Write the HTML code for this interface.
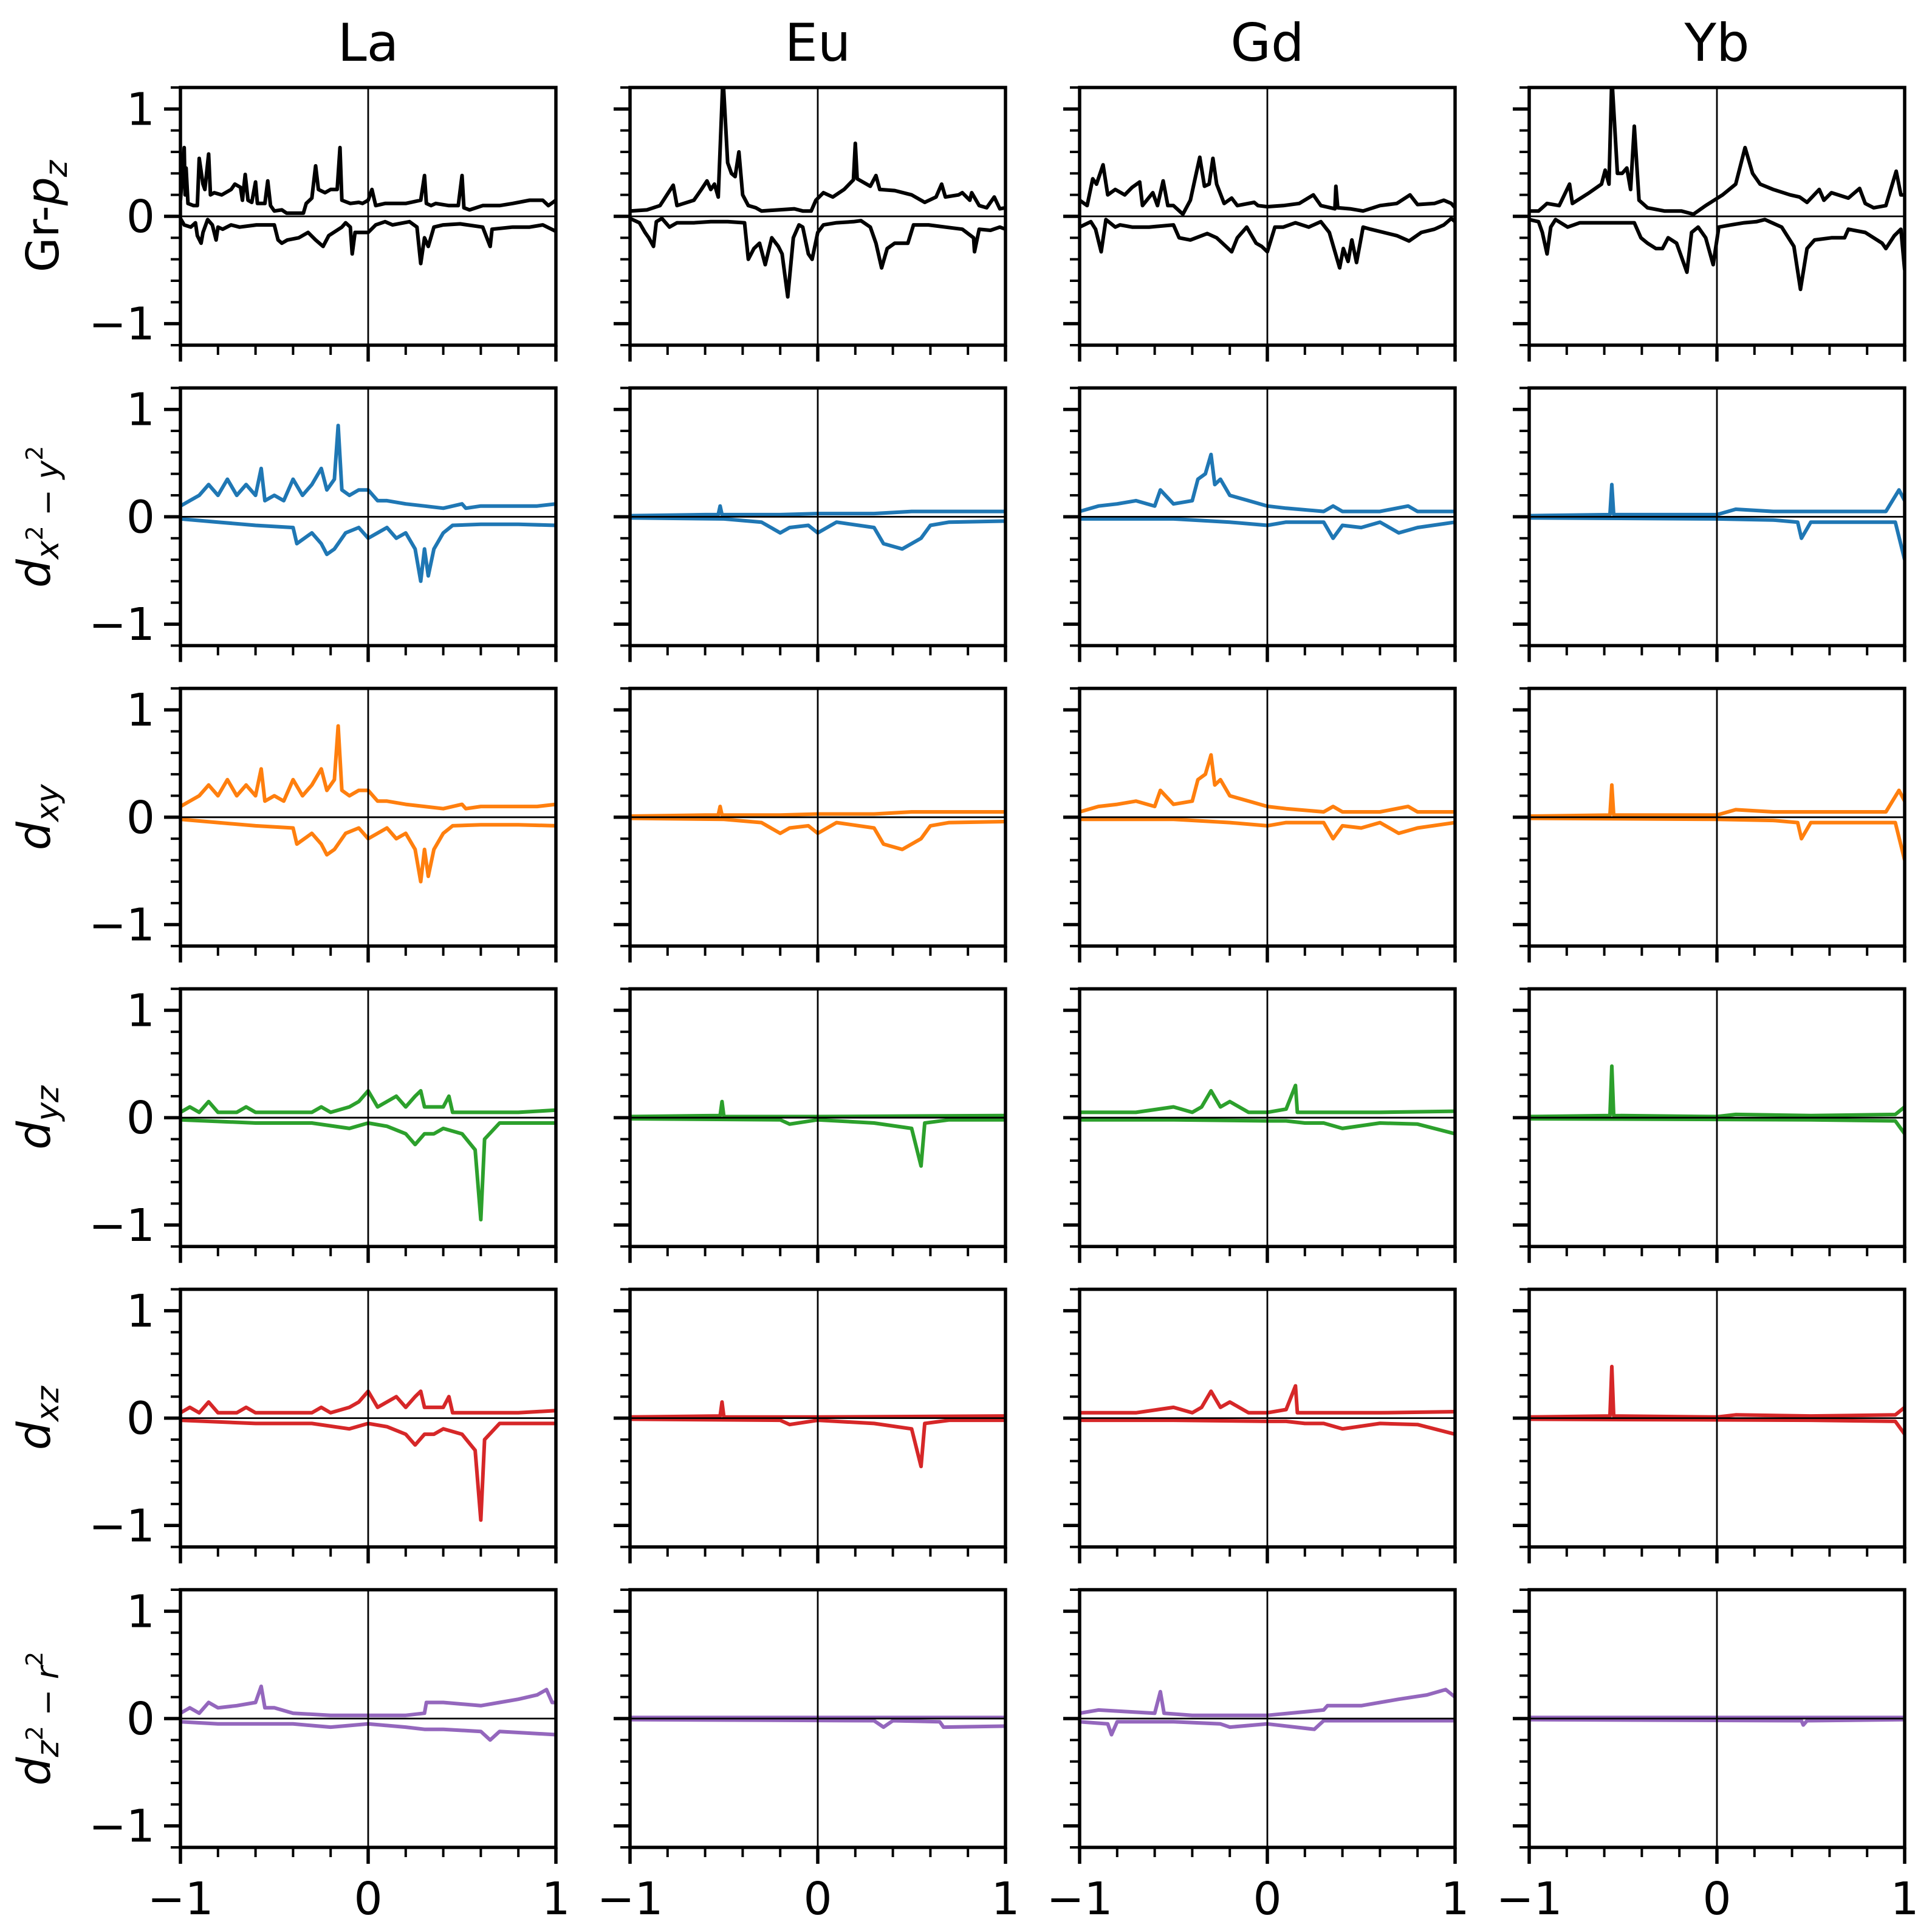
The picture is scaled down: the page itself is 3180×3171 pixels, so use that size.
<!DOCTYPE html>
<html><head><meta charset="utf-8"><style>
html,body{margin:0;padding:0;background:#fff}
svg{display:block;font-family:"DejaVu Sans","Liberation Sans",sans-serif}
</style></head><body>
<svg id="fig" width="3180" height="3171" viewBox="0 0 3180 3171" xmlns="http://www.w3.org/2000/svg"></svg>
<script>
// ---------- data ----------
const columns = ["La","Eu","Gd","Yb"];
const rowLabels = ["gr-pz","dx2-y2","dxy","dyz","dxz","dz2-r2"];
const rowColors = ["#000000","#1f77b4","#ff7f0e","#2ca02c","#d62728","#9467bd"];
const xTicks = [-1,0,1];
const xTickLabels = ["\u22121","0","1"];
const yTicks = [-1,0,1];
const yTickLabels = ["\u22121","0","1"];

// Row 0: Gr-pz
const grLaUpX=[-1,-0.98,-0.975,-0.97,-0.96,-0.93,-0.91,-0.9,-0.88,-0.87,-0.85,-0.84,-0.82,-0.78,-0.73,-0.71,-0.68,-0.67,-0.655,-0.64,-0.62,-0.6,-0.59,-0.55,-0.535,-0.52,-0.5,-0.46,-0.435,-0.345,-0.33,-0.3,-0.28,-0.265,-0.23,-0.2,-0.165,-0.15,-0.14,-0.095,-0.05,-0.03,0,0.02,0.04,0.09,0.13,0.2,0.28,0.3,0.31,0.335,0.36,0.43,0.48,0.5,0.51,0.54,0.61,0.7,0.77,0.86,0.93,0.96,1];
const grLaUpY=[0.15,0.64,0.2,0.45,0.12,0.1,0.1,0.54,0.3,0.25,0.58,0.2,0.22,0.2,0.25,0.3,0.27,0.15,0.39,0.15,0.13,0.32,0.12,0.12,0.33,0.1,0.05,0.06,0.03,0.03,0.12,0.17,0.47,0.25,0.22,0.25,0.25,0.64,0.15,0.12,0.13,0.12,0.15,0.25,0.1,0.12,0.12,0.12,0.15,0.38,0.12,0.1,0.12,0.1,0.1,0.38,0.08,0.06,0.1,0.1,0.12,0.15,0.15,0.1,0.15];
const grLaDnX=[-1,-0.98,-0.945,-0.92,-0.91,-0.89,-0.88,-0.855,-0.83,-0.81,-0.8,-0.775,-0.73,-0.685,-0.595,-0.5,-0.48,-0.46,-0.43,-0.37,-0.32,-0.28,-0.24,-0.21,-0.14,-0.12,-0.095,-0.085,-0.07,-0.03,0,0.04,0.09,0.13,0.22,0.26,0.28,0.3,0.32,0.35,0.4,0.49,0.61,0.65,0.66,0.77,0.86,0.93,1];
const grLaDnY=[-0.02,-0.08,-0.1,-0.06,-0.18,-0.25,-0.15,-0.03,-0.08,-0.22,-0.1,-0.12,-0.08,-0.1,-0.08,-0.08,-0.22,-0.25,-0.22,-0.2,-0.15,-0.22,-0.28,-0.18,-0.1,-0.06,-0.1,-0.35,-0.15,-0.15,-0.15,-0.08,-0.05,-0.08,-0.05,-0.1,-0.44,-0.2,-0.28,-0.1,-0.08,-0.07,-0.1,-0.28,-0.12,-0.1,-0.1,-0.08,-0.14];

const grEuUpX=[-1,-0.91,-0.84,-0.77,-0.75,-0.66,-0.62,-0.59,-0.57,-0.55,-0.53,-0.505,-0.48,-0.46,-0.44,-0.42,-0.4,-0.37,-0.33,-0.3,-0.21,-0.125,-0.08,-0.035,-0.01,0.03,0.08,0.14,0.19,0.2,0.21,0.28,0.31,0.33,0.41,0.5,0.57,0.63,0.66,0.68,0.75,0.77,0.81,0.82,0.86,0.9,0.94,0.97,1];
const grEuUpY=[0.05,0.06,0.1,0.29,0.1,0.15,0.25,0.33,0.25,0.3,0.18,1.3,0.5,0.4,0.37,0.6,0.2,0.1,0.08,0.05,0.06,0.07,0.05,0.05,0.15,0.22,0.18,0.25,0.34,0.68,0.35,0.28,0.38,0.25,0.24,0.2,0.13,0.18,0.3,0.18,0.2,0.22,0.15,0.22,0.1,0.08,0.18,0.07,0.08];
const grEuDnX=[-1,-0.95,-0.92,-0.9,-0.875,-0.86,-0.83,-0.79,-0.75,-0.66,-0.57,-0.48,-0.39,-0.37,-0.34,-0.31,-0.28,-0.245,-0.21,-0.19,-0.16,-0.13,-0.1,-0.08,-0.05,-0.03,0,0.03,0.1,0.19,0.23,0.28,0.31,0.34,0.37,0.41,0.48,0.51,0.59,0.68,0.77,0.83,0.835,0.86,0.92,0.97,1];
const grEuDnY=[-0.02,-0.06,-0.15,-0.2,-0.28,-0.05,-0.02,-0.1,-0.06,-0.06,-0.05,-0.05,-0.06,-0.4,-0.3,-0.25,-0.45,-0.2,-0.28,-0.35,-0.75,-0.2,-0.08,-0.1,-0.35,-0.4,-0.15,-0.08,-0.06,-0.05,-0.04,-0.1,-0.25,-0.48,-0.3,-0.25,-0.25,-0.08,-0.08,-0.1,-0.12,-0.2,-0.33,-0.12,-0.13,-0.1,-0.12];

const grGdUpX=[-1,-0.96,-0.93,-0.91,-0.875,-0.85,-0.81,-0.76,-0.72,-0.68,-0.665,-0.61,-0.585,-0.555,-0.53,-0.5,-0.45,-0.41,-0.385,-0.36,-0.335,-0.31,-0.29,-0.27,-0.23,-0.19,-0.16,-0.07,-0.05,0,0.085,0.17,0.245,0.285,0.36,0.365,0.375,0.44,0.51,0.6,0.69,0.76,0.8,0.89,0.94,0.98,1];
const grGdUpY=[0.15,0.1,0.35,0.3,0.48,0.2,0.25,0.2,0.27,0.32,0.1,0.22,0.1,0.33,0.1,0.1,0.02,0.15,0.35,0.55,0.28,0.3,0.54,0.3,0.12,0.17,0.1,0.13,0.1,0.09,0.1,0.12,0.2,0.1,0.07,0.28,0.08,0.07,0.05,0.1,0.12,0.2,0.11,0.12,0.15,0.12,0.08];
const grGdDnX=[-1,-0.94,-0.915,-0.885,-0.86,-0.81,-0.785,-0.72,-0.63,-0.5,-0.47,-0.41,-0.32,-0.27,-0.19,-0.16,-0.11,-0.06,-0.03,0,0.04,0.085,0.15,0.22,0.285,0.33,0.385,0.405,0.43,0.45,0.475,0.51,0.55,0.62,0.69,0.755,0.82,0.89,0.94,0.98,1];
const grGdDnY=[-0.1,-0.05,-0.12,-0.33,-0.03,-0.1,-0.08,-0.1,-0.1,-0.08,-0.2,-0.22,-0.16,-0.2,-0.33,-0.2,-0.1,-0.25,-0.28,-0.33,-0.1,-0.1,-0.06,-0.1,-0.05,-0.15,-0.48,-0.3,-0.42,-0.22,-0.43,-0.1,-0.12,-0.15,-0.18,-0.23,-0.15,-0.12,-0.08,-0.02,-0.05];

const grYbUpX=[-1,-0.95,-0.905,-0.84,-0.785,-0.77,-0.68,-0.615,-0.595,-0.575,-0.56,-0.53,-0.505,-0.48,-0.46,-0.44,-0.415,-0.37,-0.28,-0.19,-0.125,-0.06,-0.015,0.03,0.1,0.15,0.19,0.23,0.3,0.39,0.44,0.48,0.545,0.57,0.61,0.7,0.76,0.79,0.835,0.9,0.955,0.98,1];
const grYbUpY=[0.05,0.05,0.12,0.1,0.3,0.12,0.22,0.3,0.43,0.3,1.3,0.4,0.4,0.45,0.25,0.84,0.15,0.08,0.05,0.05,0.02,0.1,0.15,0.2,0.3,0.64,0.4,0.3,0.25,0.2,0.18,0.13,0.25,0.15,0.22,0.17,0.26,0.12,0.08,0.1,0.42,0.2,0.2];
const grYbDnX=[-1,-0.95,-0.93,-0.905,-0.885,-0.86,-0.795,-0.73,-0.595,-0.44,-0.405,-0.37,-0.325,-0.29,-0.26,-0.215,-0.16,-0.135,-0.1,-0.06,-0.02,0.01,0.075,0.145,0.21,0.255,0.345,0.41,0.445,0.48,0.52,0.61,0.68,0.7,0.79,0.88,0.9,0.945,0.98,1];
const grYbDnY=[-0.03,-0.05,-0.15,-0.35,-0.1,-0.03,-0.1,-0.06,-0.06,-0.06,-0.2,-0.25,-0.3,-0.3,-0.2,-0.25,-0.52,-0.15,-0.1,-0.2,-0.45,-0.1,-0.08,-0.06,-0.05,-0.03,-0.1,-0.28,-0.68,-0.3,-0.22,-0.2,-0.2,-0.12,-0.15,-0.25,-0.3,-0.18,-0.12,-0.5];

// Rows 1-2: d(x2-y2) and d(xy) (nearly identical)
const egLaUpX=[-1,-0.95,-0.9,-0.85,-0.8,-0.75,-0.7,-0.65,-0.6,-0.57,-0.55,-0.5,-0.45,-0.4,-0.35,-0.3,-0.25,-0.22,-0.18,-0.16,-0.14,-0.1,-0.05,0,0.05,0.1,0.2,0.3,0.4,0.5,0.52,0.6,0.7,0.8,0.9,1];
const egLaUpY=[0.1,0.15,0.2,0.3,0.2,0.35,0.2,0.3,0.2,0.45,0.15,0.2,0.15,0.35,0.2,0.3,0.45,0.25,0.35,0.85,0.25,0.2,0.25,0.25,0.15,0.15,0.12,0.1,0.08,0.12,0.08,0.1,0.1,0.1,0.1,0.12];
const egLaDnX=[-1,-0.8,-0.6,-0.4,-0.38,-0.3,-0.25,-0.22,-0.18,-0.12,-0.05,0,0.05,0.1,0.15,0.2,0.25,0.28,0.3,0.32,0.35,0.4,0.45,0.6,0.8,1];
const egLaDnY=[-0.02,-0.05,-0.08,-0.1,-0.25,-0.15,-0.25,-0.35,-0.3,-0.15,-0.1,-0.2,-0.15,-0.1,-0.2,-0.15,-0.3,-0.6,-0.3,-0.55,-0.3,-0.15,-0.08,-0.07,-0.07,-0.08];
const egEuUpX=[-1,-0.6,-0.53,-0.52,-0.51,-0.2,0,0.3,0.5,0.7,0.9,1];
const egEuUpY=[0.01,0.02,0.02,0.1,0.02,0.02,0.03,0.03,0.05,0.05,0.05,0.05];
const egEuDnX=[-1,-0.5,-0.3,-0.2,-0.15,-0.05,0,0.1,0.3,0.35,0.45,0.55,0.6,0.7,1];
const egEuDnY=[-0.01,-0.02,-0.05,-0.15,-0.1,-0.08,-0.15,-0.05,-0.1,-0.25,-0.3,-0.2,-0.08,-0.05,-0.04];
const egGdUpX=[-1,-0.9,-0.8,-0.7,-0.6,-0.57,-0.5,-0.4,-0.37,-0.33,-0.3,-0.28,-0.25,-0.2,-0.1,0,0.1,0.3,0.35,0.4,0.6,0.75,0.8,1];
const egGdUpY=[0.05,0.1,0.12,0.15,0.1,0.25,0.12,0.15,0.35,0.4,0.58,0.3,0.35,0.2,0.15,0.1,0.08,0.05,0.1,0.05,0.05,0.1,0.05,0.05];
const egGdDnX=[-1,-0.5,-0.2,0,0.1,0.3,0.35,0.4,0.5,0.6,0.7,0.8,1];
const egGdDnY=[-0.02,-0.02,-0.05,-0.08,-0.05,-0.05,-0.2,-0.08,-0.1,-0.05,-0.15,-0.1,-0.05];
const egYbUpX=[-1,-0.57,-0.56,-0.55,0,0.1,0.3,0.6,0.9,0.97,1];
const egYbUpY=[0.01,0.02,0.3,0.02,0.02,0.07,0.05,0.05,0.05,0.25,0.15];
const egYbDnX=[-1,0,0.3,0.43,0.45,0.5,0.8,0.95,1];
const egYbDnY=[-0.01,-0.02,-0.03,-0.05,-0.2,-0.05,-0.05,-0.05,-0.4];

// Rows 3-4: d(yz) and d(xz) (nearly identical)
const t2LaUpX=[-1,-0.95,-0.9,-0.85,-0.8,-0.7,-0.65,-0.6,-0.3,-0.25,-0.2,-0.1,-0.05,0,0.05,0.1,0.15,0.2,0.25,0.28,0.3,0.4,0.43,0.45,0.6,0.8,1];
const t2LaUpY=[0.05,0.1,0.05,0.15,0.05,0.05,0.1,0.05,0.05,0.1,0.05,0.1,0.15,0.25,0.1,0.15,0.2,0.1,0.2,0.25,0.1,0.1,0.2,0.05,0.05,0.05,0.07];
const t2LaDnX=[-1,-0.6,-0.3,-0.1,0,0.1,0.2,0.25,0.3,0.35,0.4,0.5,0.57,0.6,0.62,0.7,1];
const t2LaDnY=[-0.02,-0.05,-0.05,-0.1,-0.05,-0.08,-0.15,-0.25,-0.15,-0.15,-0.1,-0.15,-0.3,-0.95,-0.2,-0.05,-0.05];
const t2EuUpX=[-1,-0.52,-0.51,-0.5,0,1];
const t2EuUpY=[0.01,0.02,0.15,0.01,0.01,0.02];
const t2EuDnX=[-1,-0.2,-0.15,0,0.3,0.5,0.55,0.57,0.7,1];
const t2EuDnY=[-0.01,-0.02,-0.06,-0.02,-0.05,-0.1,-0.45,-0.05,-0.02,-0.02];
const t2GdUpX=[-1,-0.8,-0.7,-0.5,-0.4,-0.35,-0.3,-0.25,-0.2,-0.1,0,0.1,0.15,0.16,0.3,0.6,1];
const t2GdUpY=[0.05,0.05,0.05,0.1,0.05,0.1,0.25,0.1,0.15,0.05,0.05,0.08,0.3,0.05,0.05,0.05,0.06];
const t2GdDnX=[-1,-0.5,0,0.1,0.2,0.3,0.4,0.6,0.8,1];
const t2GdDnY=[-0.02,-0.02,-0.03,-0.03,-0.05,-0.05,-0.1,-0.05,-0.06,-0.15];
const t2YbUpX=[-1,-0.57,-0.56,-0.55,0,0.1,0.5,0.95,1];
const t2YbUpY=[0.01,0.02,0.48,0.02,0.01,0.03,0.02,0.03,0.1];
const t2YbDnX=[-1,0.5,0.95,1];
const t2YbDnY=[-0.01,-0.02,-0.03,-0.15];

// Row 5: d(z2-r2)
const z2LaUpX=[-1,-0.95,-0.9,-0.85,-0.8,-0.7,-0.6,-0.57,-0.55,-0.5,-0.4,-0.2,0,0.2,0.3,0.31,0.4,0.6,0.7,0.8,0.9,0.95,0.98,1];
const z2LaUpY=[0.05,0.1,0.05,0.15,0.1,0.12,0.15,0.3,0.1,0.1,0.05,0.03,0.03,0.03,0.05,0.15,0.15,0.12,0.15,0.18,0.22,0.27,0.15,0.15];
const z2LaDnX=[-1,-0.8,-0.6,-0.4,-0.2,0,0.2,0.3,0.4,0.6,0.65,0.7,0.8,1];
const z2LaDnY=[-0.03,-0.05,-0.05,-0.05,-0.08,-0.05,-0.08,-0.1,-0.1,-0.12,-0.2,-0.12,-0.13,-0.15];
const z2EuUpX=[-1,0,1];
const z2EuUpY=[0.01,0.01,0.01];
const z2EuDnX=[-1,0.3,0.35,0.4,0.65,0.67,1];
const z2EuDnY=[-0.01,-0.02,-0.08,-0.02,-0.03,-0.08,-0.07];
const z2GdUpX=[-1,-0.9,-0.6,-0.57,-0.55,-0.4,0,0.3,0.32,0.5,0.7,0.85,0.95,1];
const z2GdUpY=[0.05,0.08,0.05,0.25,0.05,0.03,0.03,0.08,0.12,0.12,0.18,0.22,0.27,0.2];
const z2GdDnX=[-1,-0.85,-0.83,-0.8,-0.5,-0.25,-0.2,0,0.25,0.3,0.5,1];
const z2GdDnY=[-0.03,-0.05,-0.15,-0.03,-0.03,-0.05,-0.08,-0.05,-0.1,-0.02,-0.02,-0.02];
const z2YbUpX=[-1,0,1];
const z2YbUpY=[0.01,0.01,0.01];
const z2YbDnX=[-1,0.45,0.46,0.48,1];
const z2YbDnY=[-0.01,-0.02,-0.06,-0.02,-0.01];

const curves = [
 [[grLaUpX,grLaUpY,grLaDnX,grLaDnY],[grEuUpX,grEuUpY,grEuDnX,grEuDnY],[grGdUpX,grGdUpY,grGdDnX,grGdDnY],[grYbUpX,grYbUpY,grYbDnX,grYbDnY]],
 [[egLaUpX,egLaUpY,egLaDnX,egLaDnY],[egEuUpX,egEuUpY,egEuDnX,egEuDnY],[egGdUpX,egGdUpY,egGdDnX,egGdDnY],[egYbUpX,egYbUpY,egYbDnX,egYbDnY]],
 [[egLaUpX,egLaUpY,egLaDnX,egLaDnY],[egEuUpX,egEuUpY,egEuDnX,egEuDnY],[egGdUpX,egGdUpY,egGdDnX,egGdDnY],[egYbUpX,egYbUpY,egYbDnX,egYbDnY]],
 [[t2LaUpX,t2LaUpY,t2LaDnX,t2LaDnY],[t2EuUpX,t2EuUpY,t2EuDnX,t2EuDnY],[t2GdUpX,t2GdUpY,t2GdDnX,t2GdDnY],[t2YbUpX,t2YbUpY,t2YbDnX,t2YbDnY]],
 [[t2LaUpX,t2LaUpY,t2LaDnX,t2LaDnY],[t2EuUpX,t2EuUpY,t2EuDnX,t2EuDnY],[t2GdUpX,t2GdUpY,t2GdDnX,t2GdDnY],[t2YbUpX,t2YbUpY,t2YbDnX,t2YbDnY]],
 [[z2LaUpX,z2LaUpY,z2LaDnX,z2LaDnY],[z2EuUpX,z2EuUpY,z2EuDnX,z2EuDnY],[z2GdUpX,z2GdUpY,z2GdDnX,z2GdDnY],[z2YbUpX,z2YbUpY,z2YbDnX,z2YbDnY]]
];

// ---------- drawing ----------
const NS="http://www.w3.org/2000/svg";
const svg=document.getElementById('fig');
const L0=297, DX=740, PW=618, T0=144, DY=494.4, PH=424, YMAX=1.2;
function sx(c,x){return L0+DX*c+(x+1)/2*PW;}
function sy(r,y){return T0+DY*r+(YMAX-y)/(2*YMAX)*PH;}
function mk(tag,attrs,parent){const e=document.createElementNS(NS,tag);for(const k in attrs)e.setAttribute(k,attrs[k]);(parent||svg).appendChild(e);return e;}

const defs=mk('defs',{});
for(let r=0;r<6;r++)for(let c=0;c<4;c++){
  const cp=mk('clipPath',{id:'cp'+r+'_'+c},defs);
  mk('rect',{x:L0+DX*c,y:T0+DY*r,width:PW,height:PH},cp);
}

columns.forEach((name,c)=>{
  const t=mk('text',{x:L0+DX*c+PW/2,y:100,'font-size':86,'text-anchor':'middle',fill:'#000'});
  t.textContent=name;
  
  
});

const rowLabelSpecs=[
  {main:'Gr-',it:'p',sub:'z',sup:''},
  {main:'',it:'d',sub:'x',sup:'2',sub2:' \u2212 ',it2:'y',sup2:'2'},
  {main:'',it:'d',sub:'xy'},
  {main:'',it:'d',sub:'yz'},
  {main:'',it:'d',sub:'xz'},
  {main:'',it:'d',sub:'z',sup:'2',sub2:' \u2212 ',it2:'r',sup2:'2'}
];
rowLabelSpecs.forEach((s,r)=>{
  const cy=T0+DY*r+PH/2;
  const bx= r===0?96:82;
  const g=mk('g',{transform:'translate('+bx+','+cy+') rotate(-90)'});
  
  
  const t=mk('text',{x:0,y:0,'font-size':74,'text-anchor':'middle',fill:'#000'},g);
  if(s.main){const a=mk('tspan',{},t);a.textContent=s.main;}
  const b=mk('tspan',{'font-style':'italic'},t);b.textContent=s.it;
  const c1=mk('tspan',{'font-style':'italic','font-size':52,dy:14},t);c1.textContent=s.sub;
  if(s.sup){const d=mk('tspan',{'font-size':38,dy:-26},t);d.textContent=s.sup;}
  if(s.sub2){
    const e=mk('tspan',{'font-size':52,dy:26},t);e.textContent=s.sub2;
    const f=mk('tspan',{'font-style':'italic','font-size':52},t);f.textContent=s.it2;
    const h=mk('tspan',{'font-size':38,dy:-26},t);h.textContent=s.sup2;
  }
});

for(let r=0;r<6;r++){
  for(let c=0;c<4;c++){
    const L=L0+DX*c, T=T0+DY*r;
    const g=mk('g',{});
    
    
    const dg=mk('g',{'clip-path':'url(#cp'+r+'_'+c+')'},g);
    const cv=curves[r][c];
    for(let k=0;k<2;k++){
      const X=cv[2*k], Y=cv[2*k+1];
      let d='';
      for(let i=0;i<X.length;i++){d+=(i?'L':'M')+sx(c,X[i]).toFixed(1)+','+sy(r,Y[i]).toFixed(1);}
      const p=mk('path',{d:d,fill:'none',stroke:rowColors[r],'stroke-width':6,'stroke-linejoin':'round'},dg);
      
      
    }
    const zh=mk('line',{x1:L,x2:L+PW,y1:sy(r,0),y2:sy(r,0),stroke:'#000','stroke-width':2.8},g);
    
    
    const zv=mk('line',{x1:sx(c,0),x2:sx(c,0),y1:T,y2:T+PH,stroke:'#000','stroke-width':2.8},g);
    
    
    const fr=mk('rect',{x:L,y:T,width:PW,height:PH,fill:'none',stroke:'#000','stroke-width':5.5},g);
    
    
    for(let v=-6;v<=6;v++){
      const yv=v*0.2;
      const major=(v%5===0);
      const y=sy(r,yv);
      mk('line',{x1:L-(major?27:16),x2:L,y1:y,y2:y,stroke:'#000','stroke-width':major?5.5:4},g);
    }
    for(let v=-5;v<=5;v++){
      const xv=v*0.2;
      const major=(v%5===0);
      const x=sx(c,xv);
      mk('line',{x1:x,x2:x,y1:T+PH,y2:T+PH+(major?27:16),stroke:'#000','stroke-width':major?5.5:4},g);
    }
    if(c===0){
      yTicks.forEach((v,i)=>{
        const t=mk('text',{x:L-42,y:sy(r,v)+26,'font-size':74,'text-anchor':'end',fill:'#000'},g);
        t.textContent=yTickLabels[i];
        
        
      });
    }
    if(r===5){
      xTicks.forEach((v,i)=>{
        const t=mk('text',{x:sx(c,v),y:3150,'font-size':74,'text-anchor':'middle',fill:'#000'},g);
        t.textContent=xTickLabels[i];
        
        
      });
    }
  }
}
</script>
</body></html>
